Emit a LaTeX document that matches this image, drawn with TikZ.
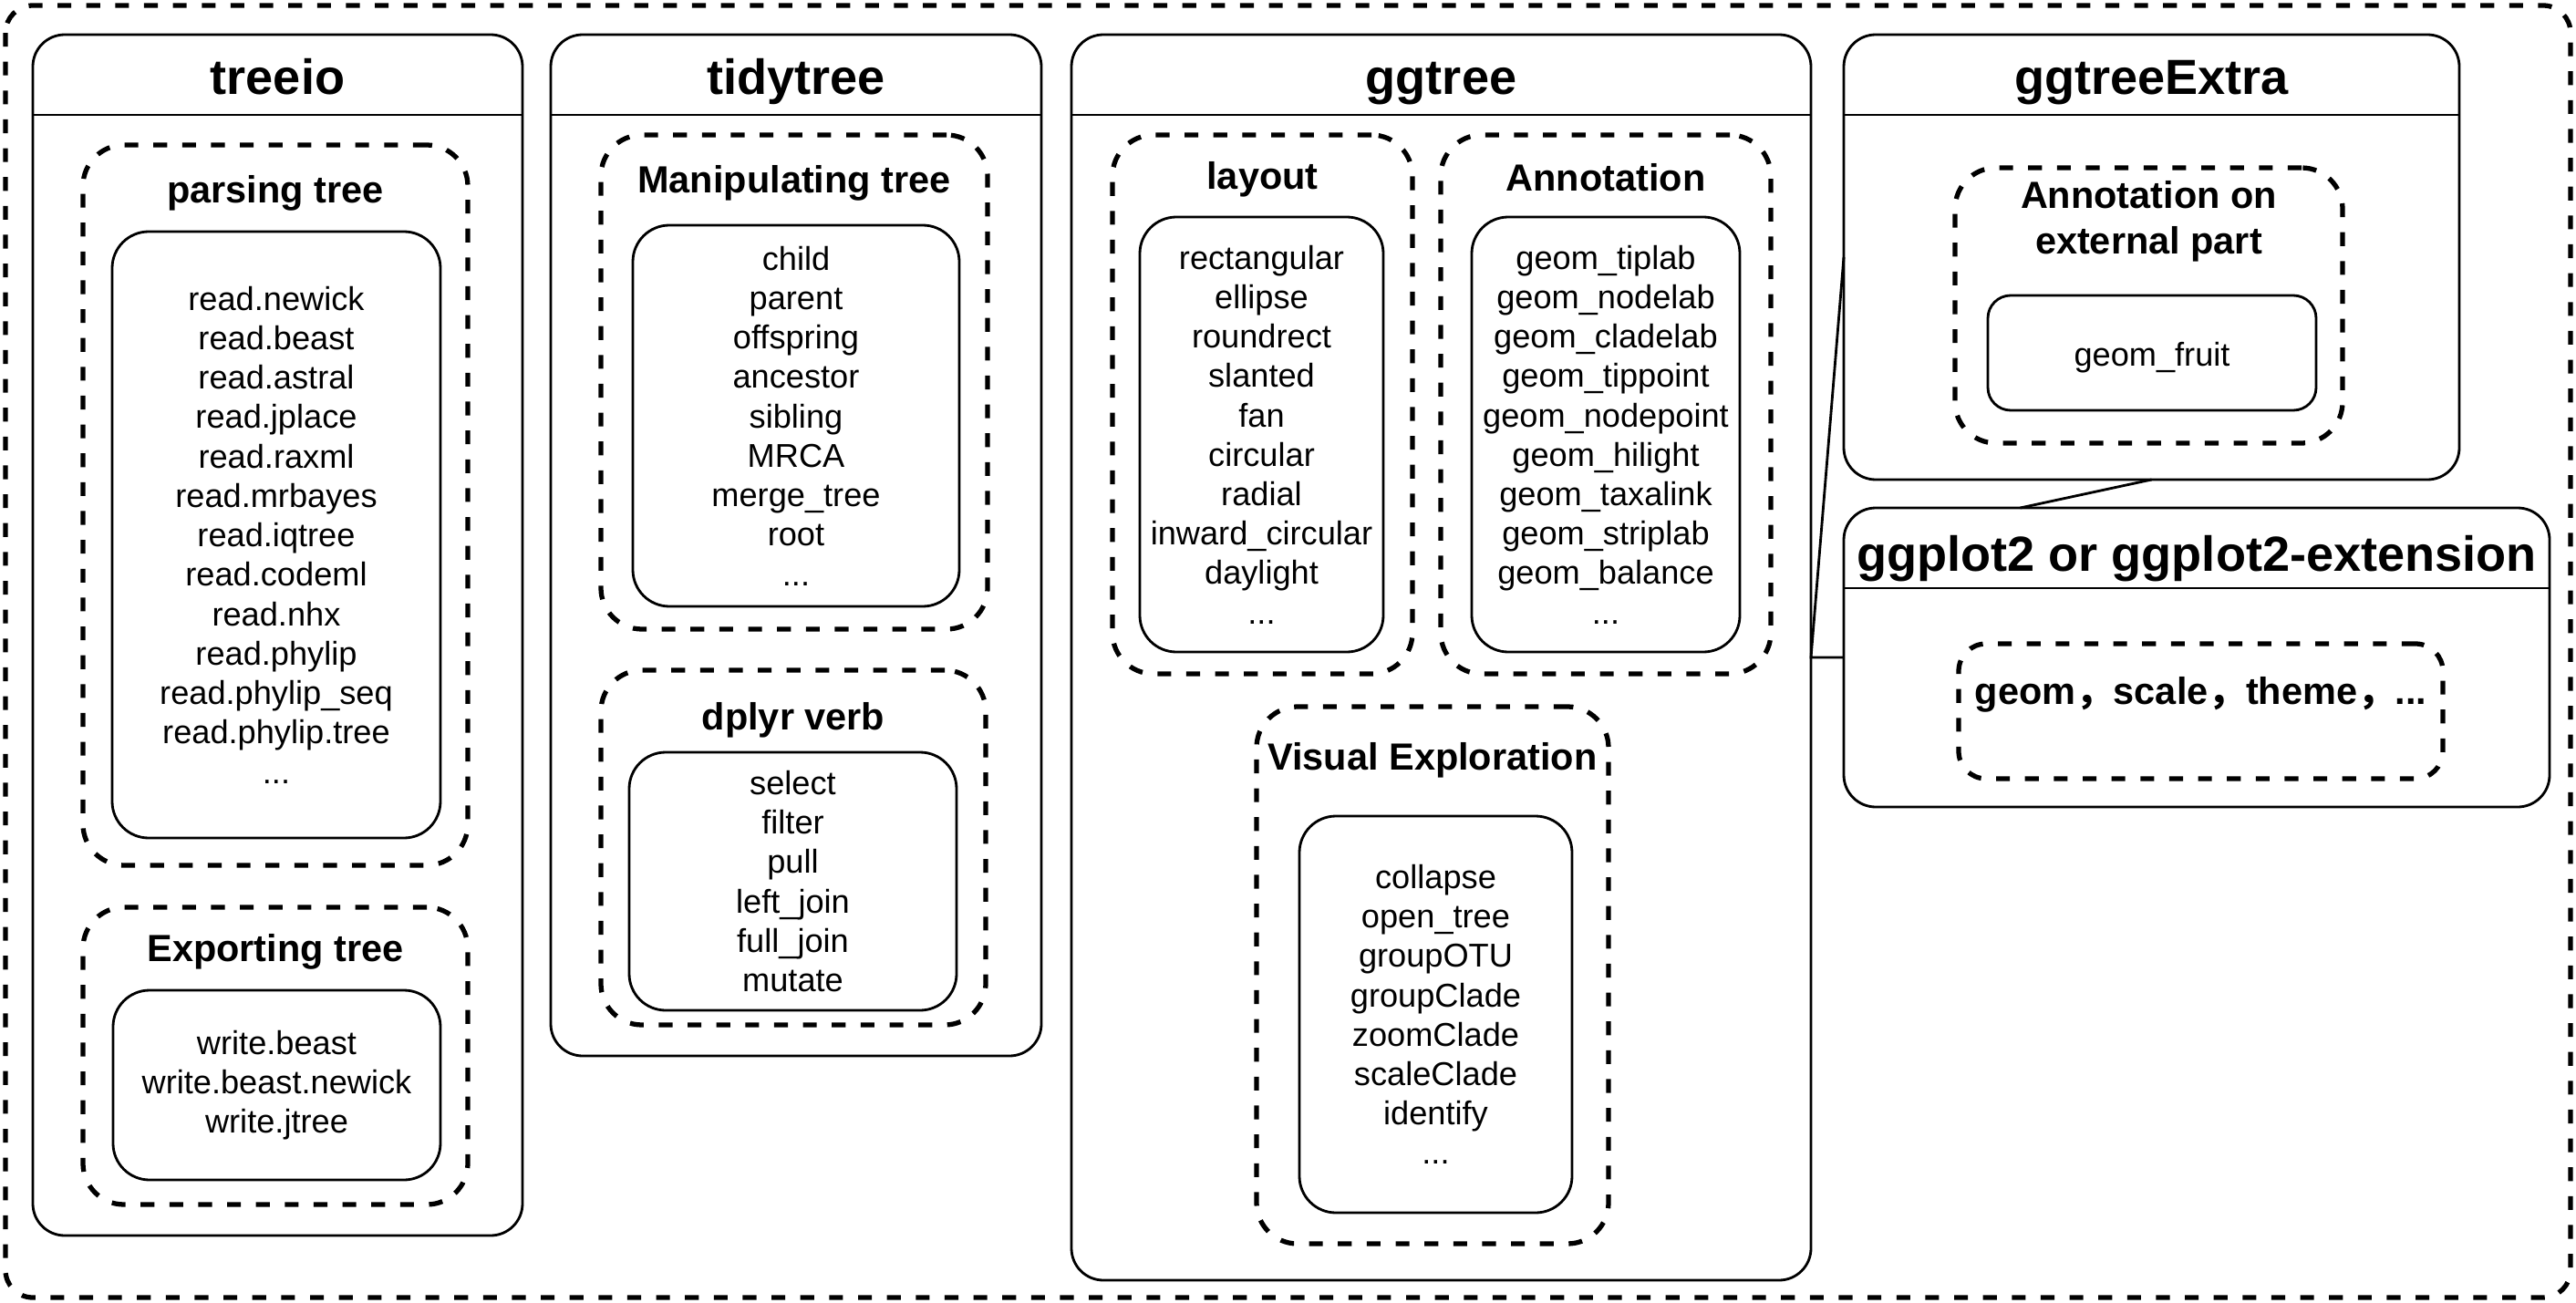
\documentclass[tikz,border=0pt]{standalone}
\usepackage{fontspec}
\setmainfont{Liberation Sans}
\newfontfamily\cjk{Noto Sans CJK SC}
\usepackage{tikz}
\usetikzlibrary{calc}
\usetikzlibrary{positioning}

\begin{document}
\begin{tikzpicture}[
	pkg/.style={draw, line width=0.8pt, rounded corners=0.35cm, anchor=north west, inner sep=0pt, outer sep=0pt},
	grp/.style={draw, line width=1.5pt, dash pattern=on 4.3pt off 4.7pt, rounded corners=0.45cm, anchor=north west, inner sep=0pt, outer sep=0pt},
	lst/.style={draw, line width=0.8pt, rounded corners=0.4cm, anchor=north west, inner sep=0pt, outer sep=0pt, align=center, execute at begin node={\rule{0pt}{10.4pt}}, font=\fontsize{10.3}{12.3}\selectfont},
	pkgtitle/.style={font=\fontsize{15.4}{18}\selectfont\bfseries, anchor=base},
	grptitle/.style={font=\fontsize{11.8}{14.2}\selectfont\bfseries, align=center}]
			\useasboundingbox (0,0) rectangle (28.25,-14.29);
			
			%coordinates
			\coordinate (ULtreeio)  at (0.36,-0.38);
			\coordinate (ULtidy)    at (6.04,-0.38);
			\coordinate (ULggtree)  at (11.75,-0.38);
			\coordinate (ULextra)   at (20.22,-0.38);
			\coordinate (ULggplot)  at (20.22,-5.57);
			
			\coordinate (ULparse)   at (0.91,-1.59);
			\coordinate (ULexport)  at (0.91,-9.95);
			\coordinate (ULmanip)   at (6.59,-1.48);
			\coordinate (ULdplyr)   at (6.59,-7.35);
			\coordinate (ULlayout)  at (12.20,-1.48);
			\coordinate (ULannot)   at (15.80,-1.48);
			\coordinate (ULvisual)  at (13.78,-7.75);
			\coordinate (ULexternal) at (21.44,-1.84);
			\coordinate (ULgeom)    at (21.48,-7.06);
			
			%outer frame
			\draw[line width=1.5pt, dash pattern=on 4.3pt off 4.7pt, rounded corners=0.3cm] (0.06,-0.06) rectangle (28.19,-14.23);
			
			%packages
			\node[pkg, minimum width=5.37cm, minimum height=13.17cm] (treeio) at (ULtreeio) {};
			\node[pkg, minimum width=5.38cm, minimum height=11.20cm] (tidytree) at (ULtidy) {};
			\node[pkg, minimum width=8.11cm, minimum height=13.66cm] (ggtree) at (ULggtree) {};
			\node[pkg, minimum width=6.75cm, minimum height=4.88cm] (ggtreeExtra) at (ULextra) {};
			\node[pkg, minimum width=7.74cm, minimum height=3.28cm] (ggplot) at (ULggplot) {};
			
			\foreach \p/\t/\b in {treeio/treeio/0.655, tidytree/tidytree/0.655, ggtree/ggtree/0.655, ggtreeExtra/ggtreeExtra/0.655, ggplot/ggplot2 or ggplot2-extension/0.69}{
				\node[pkgtitle] (\p T) at ($(\p.north)+(0,-\b)$) {\t};
				\draw[line width=0.8pt] ($(\p.north west)+(0,-0.88)$) -- ($(\p.north east)+(0,-0.88)$);
			}
			
			%groups
			\node[grp, minimum width=4.22cm, minimum height=7.90cm] (parse) at (ULparse) {};
			\node[grp, minimum width=4.22cm, minimum height=3.26cm] (export) at (ULexport) {};
			\node[grp, minimum width=4.24cm, minimum height=5.42cm] (manip) at (ULmanip) {};
			\node[grp, minimum width=4.22cm, minimum height=3.89cm] (dplyr) at (ULdplyr) {};
			\node[grp, minimum width=3.29cm, minimum height=5.91cm] (layout) at (ULlayout) {};
			\node[grp, minimum width=3.62cm, minimum height=5.91cm] (annot) at (ULannot) {};
			\node[grp, minimum width=3.86cm, minimum height=5.89cm] (visual) at (ULvisual) {};
			\node[grp, minimum width=4.25cm, minimum height=3.02cm] (external) at (ULexternal) {};
			\node[grp, minimum width=5.31cm, minimum height=1.48cm, rounded corners=0.3cm] (geom) at (ULgeom) {};
			
			\node[grptitle] (parseT)    at ($(parse.north)+(0,-0.53)$) {parsing tree};
			\node[grptitle] (exportT)   at ($(export.north)+(0,-0.49)$) {Exporting tree};
			\node[grptitle] (manipT)    at ($(manip.north)+(0,-0.53)$) {Manipulating tree};
			\node[grptitle] (dplyrT)    at ($(dplyr.north)+(0,-0.55)$) {dplyr verb};
			\node[grptitle] (layoutT)   at ($(layout.north)+(0,-0.49)$) {layout};
			\node[grptitle] (annotT)    at ($(annot.north)+(0,-0.47)$) {Annotation};
			\node[grptitle] (visualT)   at ($(visual.north)+(0,-0.59)$) {Visual Exploration};
			\node[grptitle] (externalT) at ($(external.north)+(0,-0.59)$) {Annotation on\\external part};
			\node[grptitle] (geomT)     at ($(geom.north)+(0,-0.56)$) {geom{\cjk ，}scale{\cjk ，}theme{\cjk ，}...};
			
			%function lists
			\node[lst, minimum width=3.60cm, minimum height=6.65cm] (parseL) at (1.23,-2.54) {read.newick\\read.beast\\read.astral\\read.jplace\\read.raxml\\read.mrbayes\\read.iqtree\\read.codeml\\read.nhx\\read.phylip\\read.phylip\_seq\\read.phylip.tree\\...};
			\node[lst, minimum width=3.59cm, minimum height=2.08cm] (exportL) at (1.24,-10.86) {write.beast\\write.beast.newick\\write.jtree};
			\node[lst, minimum width=3.58cm, minimum height=4.18cm] (manipL) at (6.94,-2.47) {child\\parent\\offspring\\ancestor\\sibling\\MRCA\\merge\_tree\\root\\...};
			\node[lst, minimum width=3.59cm, minimum height=2.83cm] (dplyrL) at (6.90,-8.25) {select\\filter\\pull\\left\_join\\full\_join\\mutate};
			\node[lst, minimum width=2.67cm, minimum height=4.77cm] (layoutL) at (12.50,-2.38) {rectangular\\ellipse\\roundrect\\slanted\\fan\\circular\\radial\\inward\_circular\\daylight\\...};
			\node[lst, minimum width=2.94cm, minimum height=4.77cm] (annotL) at (16.14,-2.38) {geom\_tiplab\\geom\_nodelab\\geom\_cladelab\\geom\_tippoint\\geom\_nodepoint\\geom\_hilight\\geom\_taxalink\\geom\_striplab\\geom\_balance\\...};
			\node[lst, minimum width=2.99cm, minimum height=4.35cm] (visualL) at (14.25,-8.95) {collapse\\open\_tree\\groupOTU\\groupClade\\zoomClade\\scaleClade\\identify\\...};
			\node[lst, minimum width=3.60cm, minimum height=1.26cm, rounded corners=0.25cm] (externalL) at (21.80,-3.24) {geom\_fruit};
			
			%links
			\draw[line width=0.8pt] (ggtreeExtra.west) -- (ggtree.east |- ggplot.west) -- (ggplot.west);
			\draw[line width=0.8pt] (ggtreeExtra.south) -- ($(ggplot.north west)!0.25!(ggplot.north east)$);
			\end{tikzpicture}
\end{document}
